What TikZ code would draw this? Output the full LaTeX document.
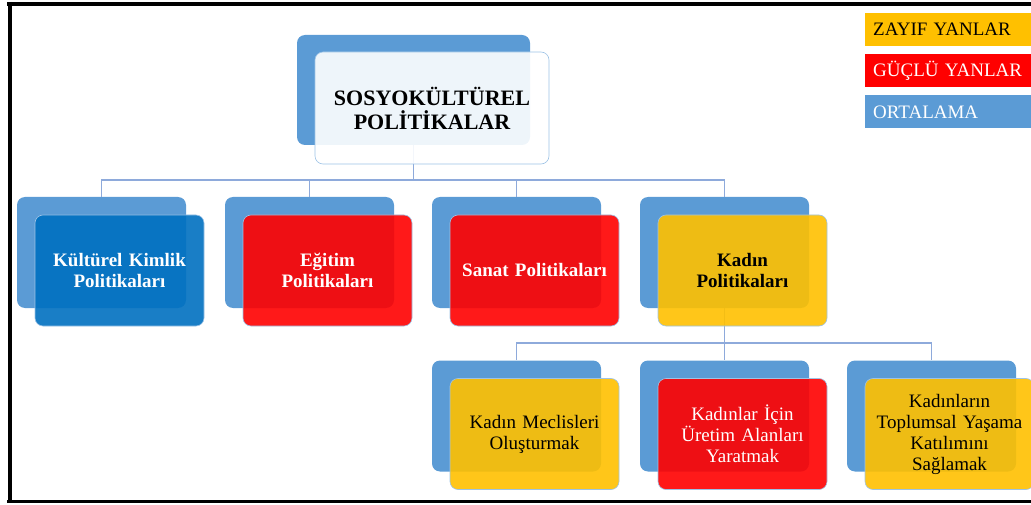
\documentclass[tikz,border=0pt]{standalone}
\usepackage{fontspec}
\setmainfont{Liberation Serif}
\usetikzlibrary{positioning}

\definecolor{ortalama}{HTML}{5B9BD5}
\definecolor{guclu}{HTML}{FF0000}
\definecolor{zayif}{HTML}{FFC000}
\definecolor{koyumavi}{HTML}{0070C0}
\definecolor{kenar}{HTML}{9DC3E6}
\definecolor{baglanti}{HTML}{8EAADB}

\begin{document}
\begin{tikzpicture}[x=1pt,y=-1pt,
	arka/.style={fill=ortalama,rounded corners=8pt,minimum width=169pt,minimum height=111pt,inner sep=0pt},
	on/.style={draw=kenar,line width=0.6pt,fill opacity=0.9,text opacity=1,rounded corners=8pt,minimum width=169pt,minimum height=111pt,inner sep=2pt,text width=164pt,align=center,font=\fontsize{19}{21}\selectfont},
	kalin/.style={on,font=\fontsize{19}{21}\selectfont\bfseries},
	cizgi/.style={draw=baglanti,line width=1.2pt},
	leyenda/.style={anchor=west,minimum width=175pt,minimum height=33pt,inner xsep=8pt,text width=159pt,align=left,font=\fontsize{19}{21}\selectfont}]
		\useasboundingbox (0,0) rectangle (1031,505);

		%Marco
		\draw[line width=3.5pt] (7,4) -- (1031,4);
		\draw[line width=4pt] (9.5,2) -- (9.5,503);
		\draw[line width=3pt] (7,501.5) -- (1031,501.5);

		%Cajas de atras
		\node[arka,minimum width=233pt,minimum height=110pt] (a0) at (413.5,90) {};
		\node[arka] (a1) at (101.5,252.5) {};
		\node[arka] (a2) at (309.5,252.5) {};
		\node[arka] (a3) at (516.5,252.5) {};
		\node[arka] (a4) at (724.5,252.5) {};
		\node[arka] (a5) at (516.5,416) {};
		\node[arka] (a6) at (724.5,416) {};
		\node[arka] (a7) at (931.5,416) {};

		%Lineas
		\coordinate (dal1) at (413.5,180);
		\coordinate (dal2) at (724.5,343);
		\draw[cizgi] (a0.south) -- (dal1) -| (a1.north);
		\draw[cizgi] (a0.south) -- (dal1) -| (a2.north);
		\draw[cizgi] (a0.south) -- (dal1) -| (a3.north);
		\draw[cizgi] (a0.south) -- (dal1) -| (a4.north);
		\draw[cizgi] (a4.south) -- (dal2) -| (a5.north);
		\draw[cizgi] (a4.south) -- (dal2) -| (a6.north);
		\draw[cizgi] (a4.south) -- (dal2) -| (a7.north);

		%Caja principal
		\node[kalin,fill=white,minimum width=234pt,minimum height=112pt,text width=228pt,font=\fontsize{22}{24}\selectfont\bfseries]
			(k0) at ([xshift=18.5pt,yshift=-18pt]a0) {SOSYOKÜLTÜREL\\POLİTİKALAR};

		%Segundo nivel
		\node[kalin,fill=koyumavi,text=white] (k1) at ([xshift=18pt,yshift=-18pt]a1) {Kültürel Kimlik\\Politikaları};
		\node[kalin,fill=guclu,text=white] (k2) at ([xshift=18pt,yshift=-18pt]a2) {Eğitim\\Politikaları};
		\node[kalin,fill=guclu,text=white] (k3) at ([xshift=18pt,yshift=-18pt]a3) {Sanat Politikaları};
		\node[kalin,fill=zayif] (k4) at ([xshift=18pt,yshift=-18pt]a4) {Kadın\\Politikaları};

		%Tercer nivel
		\node[on,fill=zayif] (k5) at ([xshift=18pt,yshift=-18pt]a5) {Kadın Meclisleri\\Oluşturmak};
		\node[on,fill=guclu,text=white] (k6) at ([xshift=18pt,yshift=-18pt]a6) {Kadınlar İçin\\Üretim Alanları\\Yaratmak};
		\node[on,fill=zayif] (k7) at ([xshift=18pt,yshift=-18pt]a7) {Kadınların\\Toplumsal Yaşama\\Katılımını\\Sağlamak};

		%Leyenda
		\node[leyenda,fill=zayif] (lz) at (865,29.5) {ZAYIF YANLAR};
		\node[leyenda,fill=guclu,text=white] (lg) at (865,70.5) {GÜÇLÜ YANLAR};
		\node[leyenda,fill=ortalama,text=white] (lo) at (865,112) {ORTALAMA};

	\end{tikzpicture}
\end{document}
